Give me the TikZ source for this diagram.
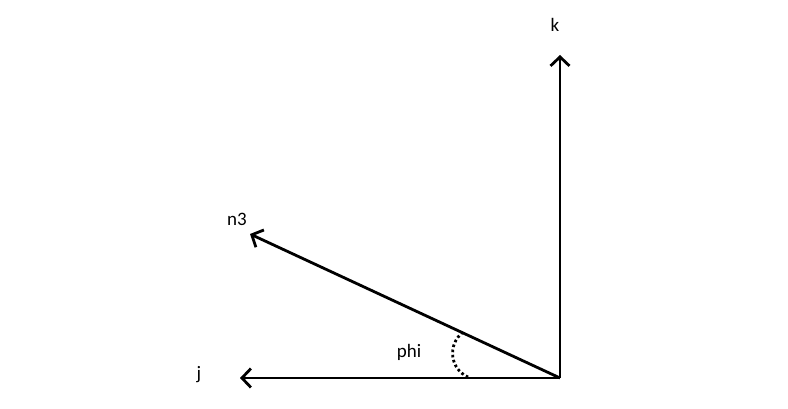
\documentclass[tikz,border=0pt]{standalone}
\usepackage{fontspec}
\setmainfont{Carlito}
\usetikzlibrary{arrows.meta}
\begin{document}
\begin{tikzpicture}[x=1pt,y=-1pt,
  vec/.style={line width=2.8pt,-{Straight Barb[length=9pt,width=19pt,line width=2.8pt]}},
  lbl/.style={font=\fontsize{19}{21}\selectfont,inner sep=0pt}]
\useasboundingbox (0,0) rectangle (788,409);
\coordinate (O) at (560,378);
\coordinate (K) at (560,55);
\coordinate (J) at (240,378);
\coordinate (N) at (250,234);
\draw[vec] (O) -- (K);
\draw[vec] (O) -- (J);
\draw[vec] (O) -- (N);
\node[lbl] (kl) at (555,25) {k};
\node[lbl] (jl) at (199,375) {j};
\node[lbl] (nl) at (237,219) {n3};
\node[lbl] (pl) at (409,352) {phi};
\coordinate (A1) at (463,332);
\coordinate (A2) at (468,377);
\draw[line width=2.8pt,dash pattern=on 2.6pt off 2.6pt] (A1) .. controls (447,345) and (450,369) .. (A2);
\end{tikzpicture}
\end{document}
